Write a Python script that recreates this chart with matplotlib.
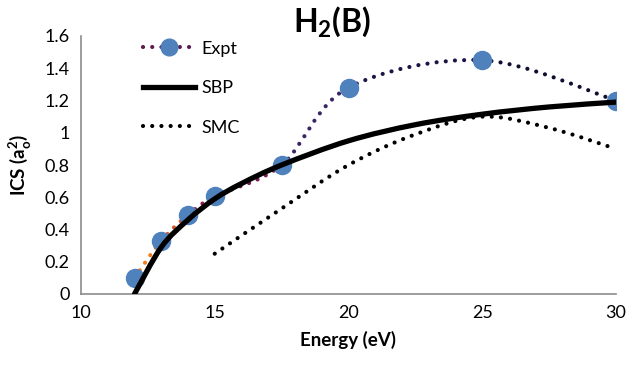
import numpy as np
import matplotlib
matplotlib.use("Agg")
import matplotlib.pyplot as plt
from matplotlib.path import Path
from matplotlib.patches import PathPatch
from matplotlib.lines import Line2D

plt.rcParams['font.family'] = ['Lato', 'DejaVu Sans']
plt.rcParams['mathtext.fontset'] = 'custom'
plt.rcParams['mathtext.rm'] = 'Lato'
plt.rcParams['mathtext.bf'] = 'Lato:bold'

# DATA
expt_e = [12, 13, 14, 15, 17.5, 20, 25, 30]
expt_ics = [0.10, 0.33, 0.49, 0.605, 0.80, 1.28, 1.45, 1.20]
# colours of the Excel gradient line, one per segment
expt_seg_colors = ['#f07c1a', '#d35a2c', '#8e1f4a', '#7a1c55', '#3b2466', '#1c1446', '#0e0e30']

sbp_e = [12, 13, 14, 15, 16, 17.5, 20, 22.5, 25, 27.5, 30]
sbp_ics = [0.0, 0.29, 0.46, 0.59, 0.685, 0.80, 0.95, 1.05, 1.115, 1.16, 1.19]

smc_e = [15, 17.5, 20, 22.5, 25, 27.5, 30]
smc_ics = [0.25, 0.53, 0.80, 0.99, 1.10, 1.03, 0.90]

yticks = [0, 0.2, 0.4, 0.6, 0.8, 1, 1.2, 1.4, 1.6]
xticks = [10, 15, 20, 25, 30]


# SMOOTH PATHS (Excel style smoothed line, bezier through the points)
def bezier_segments(x, y):
    pts = np.column_stack([x, y])
    n = len(pts)
    segs = []
    for i in range(n - 1):
        p0 = pts[max(i - 1, 0)]
        p1 = pts[i]
        p2 = pts[i + 1]
        p3 = pts[min(i + 2, n - 1)]
        c1 = p1 + (p2 - p0) / 6
        c2 = p2 - (p3 - p1) / 6
        segs.append([p1, c1, c2, p2])
    return segs


def smooth_path(x, y):
    verts = []
    codes = []
    for k, s in enumerate(bezier_segments(x, y)):
        if k == 0:
            verts.append(s[0])
            codes.append(Path.MOVETO)
        verts += [s[1], s[2], s[3]]
        codes += [Path.CURVE4] * 3
    return Path(verts, codes)


fig = plt.figure(figsize=(6.26, 3.71), dpi=100)
ax = fig.add_axes([81 / 626, 1 - 294 / 371, 535 / 626, 258 / 371])

dots = (0, (0.01, 2.2))

# SMC
ax.add_patch(PathPatch(smooth_path(smc_e, smc_ics), fill=False, edgecolor='black',
                       lw=3.0, linestyle=dots, capstyle='round', zorder=2))

# Expt line, segment by segment for the gradient
for s, c in zip(bezier_segments(expt_e, expt_ics), expt_seg_colors):
    p = Path(s, [Path.MOVETO, Path.CURVE4, Path.CURVE4, Path.CURVE4])
    ax.add_patch(PathPatch(p, fill=False, edgecolor=c, lw=3.0, linestyle=dots,
                           capstyle='round', zorder=2))

ax.plot(expt_e, expt_ics, 'o', color='#4f81bd', ms=13, zorder=3)

# SBP
ax.add_patch(PathPatch(smooth_path(sbp_e, sbp_ics), fill=False, edgecolor='black',
                       lw=3.8, capstyle='round', zorder=4))

ax.set_xlim(10, 30)
ax.set_ylim(0, 1.6)
ax.set_xticks(xticks)
ax.set_yticks(yticks)
ax.set_yticklabels([f"{v:g}" for v in yticks])
ax.tick_params(length=0, labelsize=13, pad=8)
for side in ['top', 'right']:
    ax.spines[side].set_visible(False)
for side in ['left', 'bottom']:
    ax.spines[side].set_color('#8c8c8c')
    ax.spines[side].set_linewidth(1.2)

ax.set_xlabel('Energy (eV)', fontsize=13.5, fontweight='bold', labelpad=7)
ax.set_ylabel(r'ICS (a$_\mathbf{o}^\mathbf{2}$)', fontsize=13.5, fontweight='bold', labelpad=8)
fig.text(332 / 626, 1 - 22 / 371, r'H$_\mathbf{2}$(B)', fontsize=23, fontweight='bold',
         ha='center', va='center')

handles = [
    Line2D([], [], color='#5a1c50', lw=3, linestyle=dots, dash_capstyle='round',
           marker='o', ms=12, markerfacecolor='#4f81bd', markeredgecolor='#4f81bd'),
    Line2D([], [], color='black', lw=3.8),
    Line2D([], [], color='black', lw=3, linestyle=dots, dash_capstyle='round'),
]
ax.legend(handles, ['Expt', 'SBP', 'SMC'], loc='upper left',
          bbox_to_anchor=(0.085, 1.045), frameon=False, fontsize=13,
          handlelength=2.9, labelspacing=1.3, handletextpad=0.35)

fig.savefig('out.png', dpi=100)
